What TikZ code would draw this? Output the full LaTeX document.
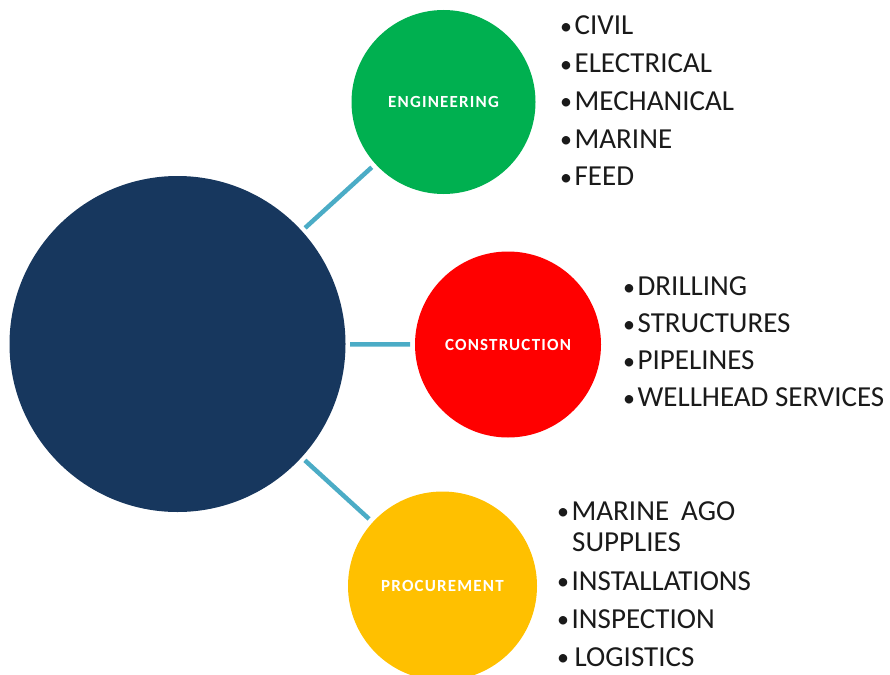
\documentclass[tikz,border=0pt]{standalone}
\usepackage{fontspec}
\setmainfont{Carlito}
\definecolor{navy}{HTML}{17375E}
\definecolor{engg}{HTML}{00B050}
\definecolor{consr}{HTML}{FF0000}
\definecolor{procy}{HTML}{FFC000}
\definecolor{teal}{HTML}{4BACC6}
\definecolor{txt}{HTML}{1A1A1A}
\newcommand{\bul}{{\fontsize{24}{28}\selectfont\raisebox{0.5pt}{•}}\hspace{2.5pt}}
\begin{document}
\begin{tikzpicture}[x=1pt,y=-1pt,
  hub/.style={circle,fill=navy,minimum size=336pt,inner sep=0pt,outer sep=4.5pt},
  spoke/.style={circle,minimum size=#1,inner sep=0pt,outer sep=5pt,text=white,
    font=\fontsize{17}{20}\selectfont\bfseries\addfontfeatures{LetterSpace=7}},
  conn/.style={draw=teal,line width=4.5pt},
  item/.style={anchor=base west,inner sep=0pt,text=txt,font=\fontsize{29}{32}\selectfont}]
\useasboundingbox (0,0) rectangle (890,674);
\clip (0,0) rectangle (890,674);
\node[hub] (hub) at (177.5,344) {};
\node[spoke=184pt,fill=engg] (eng) at (443.5,102) {ENGINEERING};
\node[spoke=186pt,fill=consr] (con) at (508,344.5) {CONSTRUCTION};
\node[spoke=189pt,fill=procy] (pro) at (442.5,586) {PROCUREMENT};
\draw[conn] (hub) -- (eng);
\draw[conn] (hub) -- (con);
\draw[conn] (hub) -- (pro);
% engineering list
\node[item] (e1) at (560,35) {\bul CIVIL};
\node[item] (e2) at (560,72.7) {\bul ELECTRICAL};
\node[item] (e3) at (560,110.4) {\bul MECHANICAL};
\node[item] (e4) at (560,148.1) {\bul MARINE};
\node[item] (e5) at (560,185.8) {\bul FEED};
% construction list
\node[item] (c1) at (623,295.5) {\bul DRILLING};
\node[item] (c2) at (623,332.5) {\bul STRUCTURES};
\node[item] (c3) at (623,369.5) {\bul PIPELINES};
\node[item] (c4) at (623,406.5) {\bul WELLHEAD SERVICES};
% procurement list
\node[item] (p1) at (557,520) {\bul MARINE\hspace{12pt}AGO};
\node[item] (p1b) at (572,551.5) {SUPPLIES};
\node[item] (p2) at (557,590) {\bul INSTALLATIONS};
\node[item] (p3) at (557,628) {\bul INSPECTION};
\node[item] (p4) at (557,666) {\bul\hspace{3pt}LOGISTICS};
\end{tikzpicture}
\end{document}
